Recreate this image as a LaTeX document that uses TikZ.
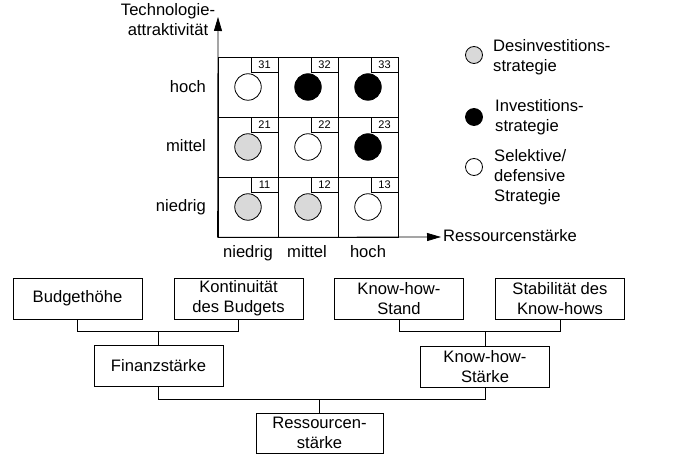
\documentclass[tikz,border=0pt]{standalone}
\usepackage{fontspec}
\setmainfont{Liberation Sans}
\usetikzlibrary{arrows.meta}
\begin{document}
\begin{tikzpicture}[x=1pt,y=-1pt,
  every node/.style={font=\fontsize{16.6}{20}\selectfont},
  ln/.style={line width=0.8pt},
  cell/.style={draw,ln,minimum size=60pt,inner sep=0pt},
  numbox/.style={draw,ln,fill=white,minimum width=27pt,minimum height=15pt,inner sep=0pt,anchor=north east,font=\fontsize{11}{12}\selectfont},
  dot/.style={circle,draw,ln,minimum size=26.5pt,inner sep=0pt},
  ldot/.style={circle,draw,ln,minimum size=17pt,inner sep=0pt},
  white dot/.style={fill=white},
  grey dot/.style={fill=gray!30},
  black dot/.style={fill=black},
  lbl/.style={inner sep=0pt},
  legtext/.style={inner sep=0pt,align=left,anchor=west},
  box/.style={draw,ln,minimum width=129pt,minimum height=41pt,inner sep=0pt,align=center},
  axis/.style={ln,-{Triangle[length=14pt,width=8pt]}}
]
\useasboundingbox (0,0) rectangle (691,457);

% grid cells
\foreach \i/\y in {1/207,2/147,3/87}{
  \foreach \j/\x in {1/248,2/308,3/368}{
    \node[cell] (c\i\j) at (\x,\y) {};
    \node[numbox] (n\i\j) at (c\i\j.north east) {\i\j};
  }
}
% circles
\node[dot,white dot] (d31) at (c31.center) {};
\node[dot,black dot] (d32) at (c32.center) {};
\node[dot,black dot] (d33) at (c33.center) {};
\node[dot,grey dot]  (d21) at (c21.center) {};
\node[dot,white dot] (d22) at (c22.center) {};
\node[dot,black dot] (d23) at (c23.center) {};
\node[dot,grey dot]  (d11) at (c11.center) {};
\node[dot,grey dot]  (d12) at (c12.center) {};
\node[dot,white dot] (d13) at (c13.center) {};

% axes
\coordinate (ytip) at (218,17);
\coordinate (xtip) at (441,237);
\draw[axis] (c11.south west) -- (ytip);
\draw[axis] (c11.south west) -- (xtip);
\node[lbl,anchor=west] (xlab) at (443,236) {Ressourcenstärke};
\node[lbl,align=center] (ylab) at (168,20) {Technologie-\\attraktivität};

% row labels
\node[lbl,anchor=base east] (r3) at (206,93) {hoch};
\node[lbl,anchor=base east] (r2) at (206,152) {mittel};
\node[lbl,anchor=base east] (r1) at (206,212) {niedrig};
% column labels
\node[lbl,anchor=base] (k1) at (248,258) {niedrig};
\node[lbl,anchor=base] (k2) at (307,258) {mittel};
\node[lbl,anchor=base] (k3) at (368,258) {hoch};

% legend
\node[ldot,grey dot]  (l1) at (474,55) {};
\node[ldot,black dot] (l2) at (474,117) {};
\node[ldot,white dot] (l3) at (474,167) {};
\node[legtext] (t1) at (493,57) {Desinvestitions-\\strategie};
\node[legtext] (t2) at (495,117) {Investitions-\\strategie};
\node[legtext] (t3) at (494,177) {Selektive/\\defensive\\Strategie};

% hierarchy
\node[box] (bud) at (77.5,298.5) {Budgethöhe};
\node[box] (kon) at (238.5,298.5) {Kontinuität\\des Budgets};
\node[box] (kst) at (399,298.5) {Know-how-\\Stand};
\node[box] (sta) at (560,298.5) {Stabilität des\\Know-hows};
\node[box] (fin) at (158.5,365.5) {Finanzstärke};
\node[box] (khs) at (485,366.5) {Know-how-\\Stärke};
\node[box,minimum width=127pt,minimum height=40pt] (res) at (319.5,433) {Ressourcen-\\stärke};

\coordinate (bar1) at (0,331);
\coordinate (bar2) at (0,399);
\draw[ln] (bud.south) |- (bar1 -| kon.south) -- (kon.south);
\draw[ln] (fin.north) -- (fin.north |- bar1);
\draw[ln] (kst.south) |- (bar1 -| sta.south) -- (sta.south);
\draw[ln] (khs.north) -- (khs.north |- bar1);
\draw[ln] (fin.south) |- (bar2 -| khs.south) -- (khs.south);
\draw[ln] (res.north) -- (res.north |- bar2);
\end{tikzpicture}
\end{document}
